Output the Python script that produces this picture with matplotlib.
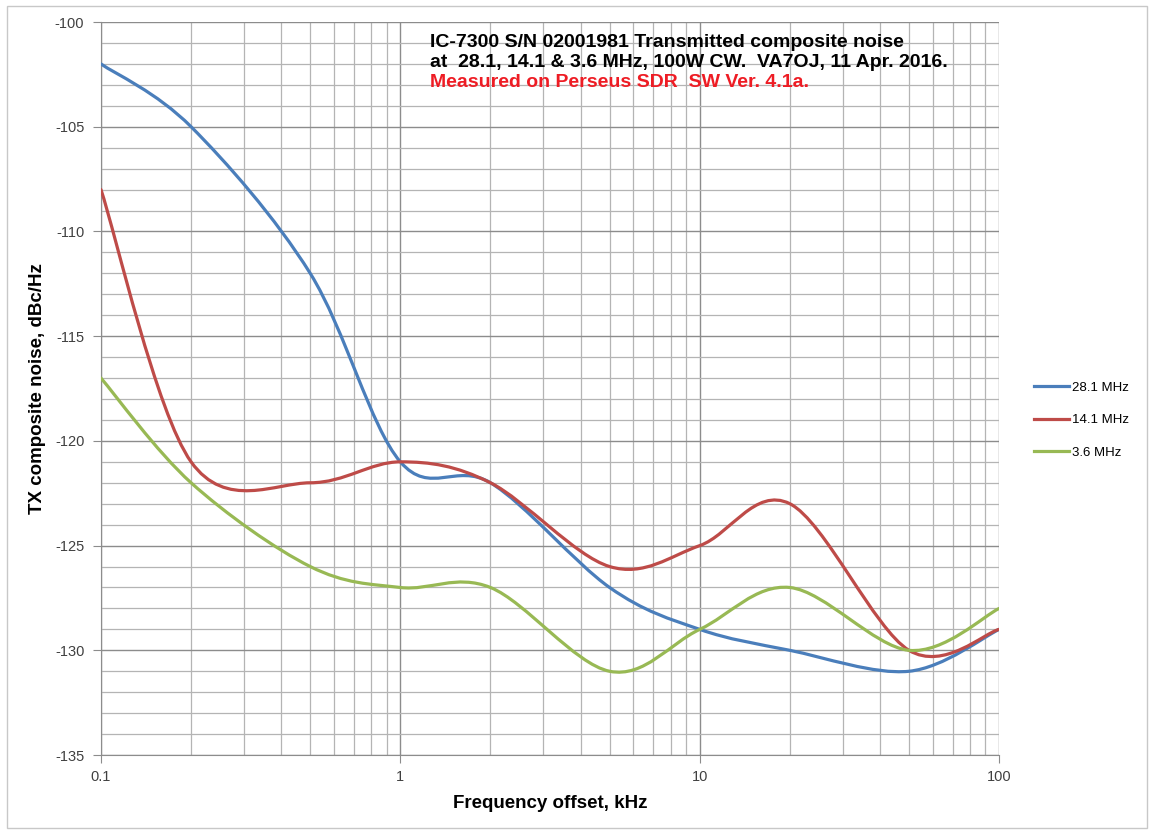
import numpy as np
import matplotlib

matplotlib.use("Agg")
import matplotlib.pyplot as plt
from matplotlib.path import Path
from matplotlib.patches import PathPatch, Rectangle
from matplotlib.lines import Line2D
from matplotlib.ticker import LogLocator, NullFormatter, FixedLocator

plt.rcParams["font.family"] = ["Liberation Sans", "DejaVu Sans"]
plt.rcParams["axes.unicode_minus"] = False

# measured points, frequency offset in kHz
OFFSET_KHZ = [0.1, 0.2, 0.5, 1, 2, 5, 10, 20, 50, 100]
NOISE_28 = [-102, -105, -112, -121, -122, -127, -129, -130, -131, -129]
NOISE_14 = [-108, -121, -122, -121, -122, -126, -125, -123, -130, -129]
NOISE_3 = [-117, -122, -126, -127, -127, -131, -129, -127, -130, -128]

SERIES = [("28.1 MHz", NOISE_28, "#4a7ebb"),
          ("14.1 MHz", NOISE_14, "#be4b48"),
          ("3.6 MHz", NOISE_3, "#98b954")]


def smooth_path(xs, ys):
    # Excel-style smoothed line: cubic Bezier through the points (Catmull-Rom
    # control points in log-x space), handed to matplotlib as a Path
    u = np.log10(xs)
    p = np.column_stack([u, ys]).astype(float)
    n = len(p)
    verts, codes = [p[0]], [Path.MOVETO]
    for i in range(n - 1):
        p0 = p[max(i - 1, 0)]
        p3 = p[min(i + 2, n - 1)]
        c1 = p[i] + (p[i + 1] - p0) / 6
        c2 = p[i + 1] - (p3 - p[i]) / 6
        verts += [c1, c2, p[i + 1]]
        codes += [Path.CURVE4] * 3
    verts = np.array(verts)
    verts[:, 0] = 10 ** verts[:, 0]
    return Path(verts, codes)


fig = plt.figure(figsize=(11.5, 8.32), dpi=100)
fig.patches.append(Rectangle((0.006, 0.005), 0.991, 0.988, transform=fig.transFigure,
                             fill=False, edgecolor="#c8c8c8", linewidth=1.0))
ax = fig.add_axes([0.0878, 0.0925, 0.781, 0.881])
ax.set_xscale("log")
ax.set_xlim(0.1, 100)
ax.set_ylim(-135, -100)

handles = []
for label, vals, color in SERIES:
    ax.add_patch(PathPatch(smooth_path(OFFSET_KHZ, vals), fill=False, edgecolor=color,
                           linewidth=2.3, capstyle="round", joinstyle="round", zorder=3))
    handles.append(Line2D([], [], color=color, linewidth=2.3, label=label))

ax.xaxis.set_major_locator(FixedLocator([0.1, 1, 10, 100]))
ax.set_xticklabels(["0.1", "1", "10", "100"])
ax.xaxis.set_minor_locator(LogLocator(base=10, subs=np.arange(2, 10)))
ax.xaxis.set_minor_formatter(NullFormatter())
ax.set_yticks(np.arange(-135, -99, 5))
ax.set_yticks(np.arange(-135, -99, 1), minor=True)
ax.grid(True, which="major", color="#8c8c8c", linewidth=1.0)
ax.grid(True, which="minor", color="#b4b4b4", linewidth=0.9)
ax.set_axisbelow(True)
for s in ["top", "right"]:
    ax.spines[s].set_visible(False)
for s in ["left", "bottom"]:
    ax.spines[s].set_color("#8c8c8c")
ax.tick_params(axis="both", which="major", length=6, color="#8c8c8c",
               labelsize=10.5, labelcolor="#404040")
ax.tick_params(axis="both", which="minor", length=0)
ax.tick_params(axis="x", pad=5)
ax.tick_params(axis="y", pad=6)

ax.set_xlabel("Frequency offset, kHz", fontsize=13.5, fontweight="bold", labelpad=8)
ax.set_ylabel("TX composite noise, dBc/Hz", fontsize=13.5, fontweight="bold", labelpad=6)

fig.text(0.374, 0.949, "IC-7300 S/N 02001981 Transmitted composite noise",
         fontsize=14, fontweight="bold", va="center")
fig.text(0.374, 0.925, "at  28.1, 14.1 & 3.6 MHz, 100W CW.  VA7OJ, 11 Apr. 2016.",
         fontsize=14, fontweight="bold", va="center")
fig.text(0.374, 0.901, "Measured on Perseus SDR  SW Ver. 4.1a.",
         fontsize=14, fontweight="bold", va="center", color="#ee1c24")

fig.legend(handles=handles, loc="center left", bbox_to_anchor=(0.889, 0.495),
           frameon=False, fontsize=9.5, labelspacing=1.55, handlelength=2.6,
           handletextpad=0.3)

fig.savefig("out.png", dpi=100)
